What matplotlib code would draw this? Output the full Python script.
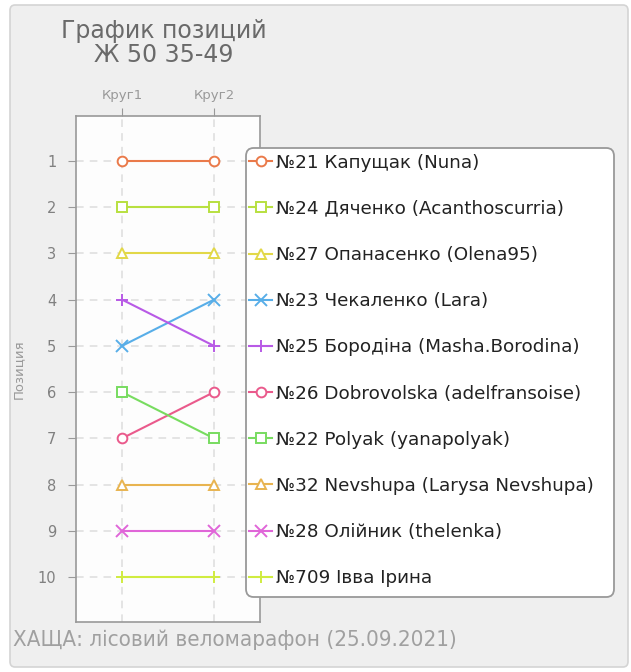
import matplotlib
matplotlib.use("Agg")
import matplotlib.pyplot as plt
from matplotlib.patches import FancyBboxPatch

rounds = ["Круг1", "Круг2"]
names = [
    "№21 Капущак (Nuna)",
    "№24 Дяченко (Acanthoscurria)",
    "№27 Опанасенко (Olena95)",
    "№23 Чекаленко (Lara)",
    "№25 Бородіна (Masha.Borodina)",
    "№26 Dobrovolska (adelfransoise)",
    "№22 Polyak (yanapolyak)",
    "№32 Nevshupa (Larysa Nevshupa)",
    "№28 Олійник (thelenka)",
    "№709 Івва Ірина",
]
positions = [
    [1, 1],
    [2, 2],
    [3, 3],
    [5, 4],
    [4, 5],
    [7, 6],
    [6, 7],
    [8, 8],
    [9, 9],
    [10, 10],
]
colors = ["#ea7a4a", "#b8e040", "#e2d848", "#58aee8", "#b85ae6",
          "#ea5a8c", "#78dc60", "#e8b450", "#e066d8", "#d0ec40"]
markers = ["o", "s", "^", "x", "+", "o", "s", "^", "x", "+"]
yticks = list(range(1, 11))

W, H = 631, 672
fig = plt.figure(figsize=(W / 100, H / 100), dpi=100)
fig.patch.set_facecolor("white")

panel = FancyBboxPatch((10 / W, 5 / H), 618 / W, 662 / H,
                       boxstyle="round,pad=0,rounding_size=0.008",
                       transform=fig.transFigure, facecolor="#efefef",
                       edgecolor="#d4d4d4", linewidth=1.2, zorder=-10)
fig.patches.append(panel)

ax = fig.add_axes([76 / W, 1 - 622 / H, (260 - 76) / W, (622 - 116) / H])
ax.set_facecolor("#fdfdfd")

xs = list(range(len(rounds)))
handles = []
for name, pos, c, m in zip(names, positions, colors, markers):
    ln, = ax.plot(xs, pos, color=c, marker=m, markersize=8 if m in "x+" else 7,
                  markerfacecolor="white" if m not in "x+" else c,
                  markeredgecolor=c, markeredgewidth=1.4, linewidth=1.5,
                  label=name, zorder=3)
    handles.append(ln)

ax.set_xlim(-0.5, 1.5)
ax.set_ylim(10.97, 0.03)
ax.set_xticks(xs)
ax.set_xticklabels(rounds)
ax.set_yticks(yticks)
ax.xaxis.tick_top()
ax.tick_params(axis="x", colors="#999999", labelcolor="#999999", labelsize=9.5,
               length=6, pad=4)
ax.tick_params(axis="y", colors="#999999", labelcolor="#808080", labelsize=10.5,
               length=6, pad=8)
for sp in ax.spines.values():
    sp.set_color("#999999")
    sp.set_linewidth(1.2)
ax.grid(True, color="#dddddd", linestyle=(0, (5, 4)), linewidth=1.1, zorder=0)
ax.set_ylabel("Позиция", color="#999999", fontsize=9.5, labelpad=9)

# legend frame (drawn above the axes, below the legend)
frame = FancyBboxPatch((246 / W, 1 - 597 / H), (614 - 246) / W, (597 - 148) / H,
                       boxstyle="round,pad=0,rounding_size=0.012",
                       transform=fig.transFigure, facecolor="white",
                       edgecolor="#999999", linewidth=1.3, zorder=3)
fig.patches.append(frame)

fs = 13.2
leg = fig.legend(handles=handles, labels=names, loc="upper left",
                 bbox_to_anchor=(246 / W, 1 - 150.5 / H),
                 bbox_transform=fig.transFigure, fontsize=fs, frameon=False,
                 labelspacing=1.537, handlelength=1.27, handletextpad=0.2,
                 borderpad=0.17, borderaxespad=0)
leg.set_zorder(5)
for t in leg.get_texts():
    t.set_color("#222222")

fig.text(164 / W, 1 - 43 / H, "График позиций\nЖ 50 35-49", ha="center",
         va="center", fontsize=17, color="#6a6a6a", linespacing=0.95)
fig.text(13 / W, 1 - 640 / H, "ХАЩА: лісовий веломарафон (25.09.2021)",
         ha="left", va="center", fontsize=16, color="#a0a0a0",
         family=["Liberation Sans Narrow", "DejaVu Sans"], fontstretch="condensed")

fig.savefig("out.png", dpi=100)
